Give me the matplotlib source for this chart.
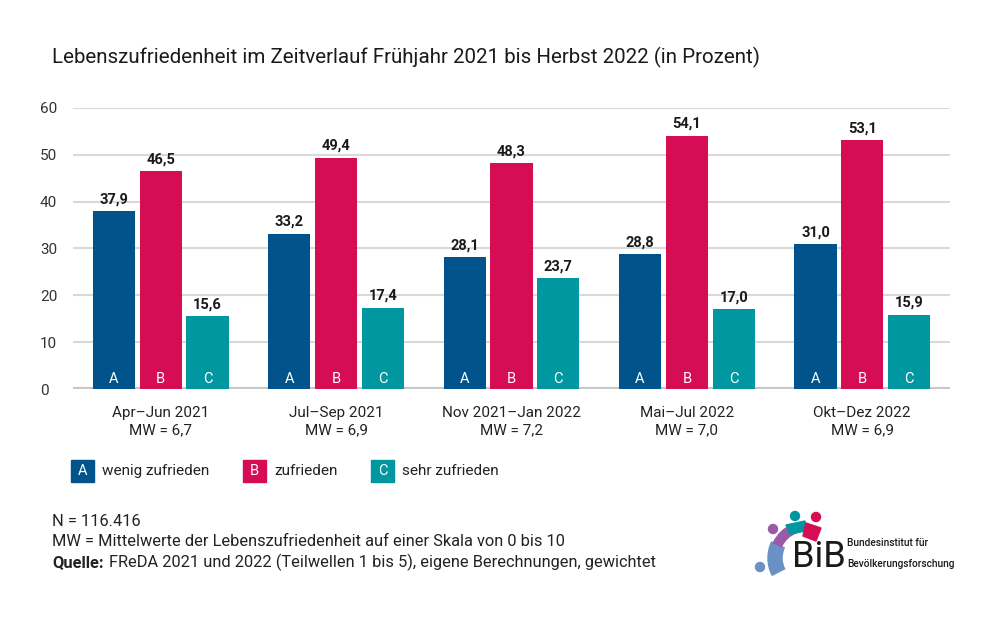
import numpy as np
import matplotlib.pyplot as plt
from matplotlib.patches import Rectangle, Circle, Wedge, Polygon

plt.rcParams['font.family'] = ['Roboto', 'DejaVu Sans']

# Data
periods = ["Apr–Jun 2021", "Jul–Sep 2021", "Nov 2021–Jan 2022", "Mai–Jul 2022", "Okt–Dez 2022"]
mw = ["6,7", "6,9", "7,2", "7,0", "6,9"]
wenig = [37.9, 33.2, 28.1, 28.8, 31.0]
zufrieden = [46.5, 49.4, 48.3, 54.1, 53.1]
sehr = [15.6, 17.4, 23.7, 17.0, 15.9]
letters = ["A", "B", "C"]
series_names = ["wenig zufrieden", "zufrieden", "sehr zufrieden"]
colors = ["#00548b", "#d60c54", "#0097a0"]

fig = plt.figure(figsize=(10, 6.17), dpi=100)
ax = fig.add_axes([0.073, 0.3695, 0.877, 0.4555])

x = np.arange(len(periods))
w = 0.24
step = 0.267
for i, (vals, col) in enumerate(zip([wenig, zufrieden, sehr], colors)):
    pos = x + (i - 1) * step
    ax.bar(pos, vals, width=w, color=col, zorder=3)
    for px, v in zip(pos, vals):
        ax.text(px, v + 1.0, f"{v:.1f}".replace(".", ","), ha="center", va="bottom",
                fontsize=10.5, fontweight="bold", color="#1a1a1a")
        ax.text(px, 2.2, letters[i], ha="center", va="center", fontsize=10.5, color="white", zorder=4)

ax.set_xlim(-0.5, 4.5)
ax.set_ylim(0, 60)
ax.set_yticks(range(0, 61, 10))
ax.yaxis.grid(True, color="#d9d9d9", linewidth=1.5, zorder=0)
ax.set_axisbelow(True)
for s in ax.spines.values():
    s.set_visible(False)
ax.axhline(0, color="#c8c8c8", linewidth=3, zorder=2)
ax.tick_params(axis="y", length=0, labelsize=11, labelcolor="#333333", pad=8)
for lab in ax.get_yticklabels():
    lab.set_horizontalalignment("left")
    lab.set_x(-0.025)
ax.set_xticks(x)
ax.set_xticklabels([f"{p}\nMW = {m}" for p, m in zip(periods, mw)], fontsize=11, color="#222222",
                   linespacing=1.3)
ax.tick_params(axis="x", length=0, pad=12)

# Title
fig.text(0.052, 0.907, "Lebenszufriedenheit im Zeitverlauf Frühjahr 2021 bis Herbst 2022 (in Prozent)",
         fontsize=14.8, color="#1a1a1a", va="center")

# Legend
leg_x = [0.071, 0.243, 0.371]
for lx, l, name, col in zip(leg_x, letters, series_names, colors):
    fig.patches.append(Rectangle((lx, 0.218), 0.023, 0.037, transform=fig.transFigure, color=col))
    fig.text(lx + 0.0115, 0.2365, l, ha="center", va="center", fontsize=10.5, color="white")
    fig.text(lx + 0.031, 0.2365, name, ha="left", va="center", fontsize=11, color="#222222")

# Footer
fig.text(0.052, 0.155, "N = 116.416", fontsize=11.8, color="#222222", va="center")
fig.text(0.052, 0.122, "MW = Mittelwerte der Lebenszufriedenheit auf einer Skala von 0 bis 10",
         fontsize=11.8, color="#222222", va="center")
fig.text(0.052, 0.089, "Quelle:", fontsize=11.8, fontweight="bold", color="#222222", va="center")
fig.text(0.109, 0.089, "FReDA 2021 und 2022 (Teilwellen 1 bis 5), eigene Berechnungen, gewichtet",
         fontsize=11.8, color="#222222", va="center")

# Logo (simplified), axes in pixel coordinates
lax = fig.add_axes([0.745, 1 - 580 / 617, 0.1, 75 / 617])
lax.set_xlim(745, 845)
lax.set_ylim(580, 505)
lax.axis("off")
lax.add_patch(Wedge((806, 558), 38, 153, 205, width=14, color="#6b90c4"))
lax.add_patch(Wedge((806, 558), 36, 205, 250, width=9, color="#9a5aa8"))
lax.add_patch(Circle((760, 567), 4.5, color="#6b90c4"))
lax.add_patch(Circle((773, 529), 4.5, color="#9a5aa8"))
lax.add_patch(Circle((795, 516), 4.5, color="#0097a0"))
lax.add_patch(Circle((816, 517), 4.5, color="#d60c54"))
lax.add_patch(Polygon([(786, 525), (805, 521), (806, 531), (790, 534)], color="#0097a0"))
lax.add_patch(Polygon([(806, 523), (821, 528), (816, 541), (803, 536)], color="#d60c54"))
fig.text(0.792, 1 - 567 / 617, "BiB", fontsize=26, color="#1a1a1a", va="baseline")
fig.text(0.847, 1 - 543 / 617, "Bundesinstitut für", fontsize=7.3, fontweight="medium",
         color="#1a1a1a", va="center")
fig.text(0.847, 1 - 564 / 617, "Bevölkerungsforschung", fontsize=7.3, fontweight="medium",
         color="#1a1a1a", va="center")

fig.savefig("out.png", dpi=100)
